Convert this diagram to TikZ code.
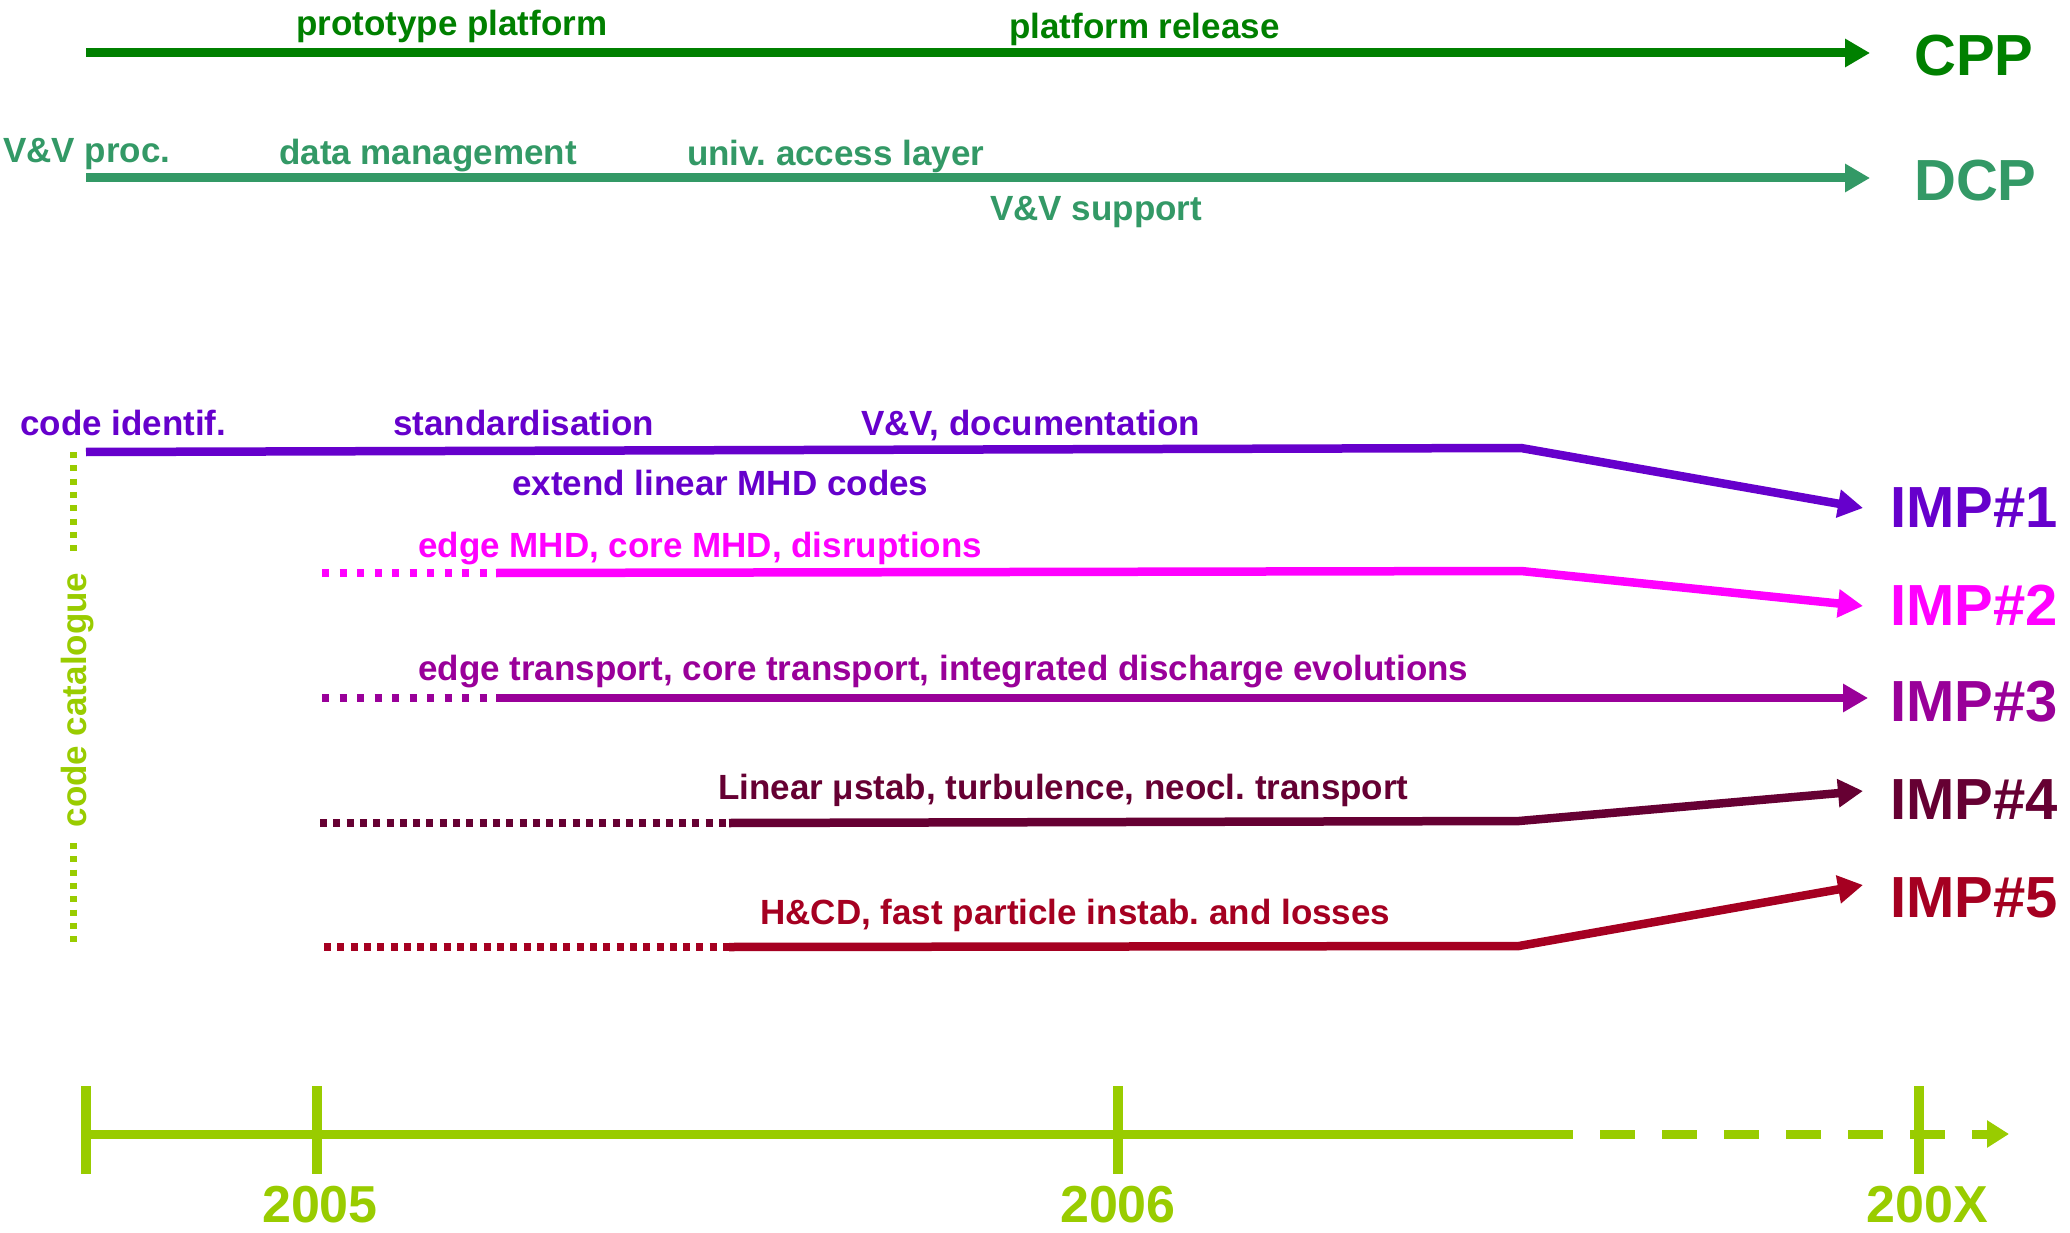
\documentclass[tikz,border=0pt]{standalone}
\usepackage{fontspec}
\setmainfont{Liberation Sans}
\usetikzlibrary{arrows.meta}

\definecolor{cppgreen}{HTML}{008000}
\definecolor{dcpgreen}{HTML}{339966}
\definecolor{impone}{HTML}{6600CC}
\definecolor{imptwo}{HTML}{FF00FF}
\definecolor{impthree}{HTML}{990099}
\definecolor{impfour}{HTML}{660033}
\definecolor{impfive}{HTML}{A50021}
\definecolor{axisgreen}{HTML}{99CC00}

\frenchspacing

\begin{document}
\begin{tikzpicture}[x=1pt,y=-1pt,
  lbl/.style={anchor=base west, inner sep=0pt, font=\fontsize{35}{40}\selectfont\bfseries},
  big/.style={anchor=base west, inner sep=0pt, font=\fontsize{58}{64}\selectfont\bfseries},
  year/.style={anchor=base, inner sep=0pt, font=\fontsize{52}{58}\selectfont\bfseries, text=axisgreen},
  track/.style={line width=9pt},
  imptrack/.style={line width=8.5pt, line join=miter},
  tipped/.style={-{Triangle[length=25pt,width=27pt]}},
  lead/.style={line width=8pt, dash pattern=on 7pt off 10.5pt},
  leadshort/.style={line width=8pt, dash pattern=on 7pt off 6.3pt},
  catdots/.style={line width=7pt, dash pattern=on 6pt off 7.3pt, axisgreen},
  tick/.style={line width=10pt, axisgreen}]

\useasboundingbox (0,0) rectangle (2070,1233);
\fill[white] (0,0) rectangle (2070,1233);

% ---------- CPP ----------
\coordinate (cppS) at (86,53);
\coordinate (cppE) at (1870,53);
\draw[track, cppgreen, tipped] (cppS) -- (cppE);
\node[lbl, text=cppgreen] (protoLbl) at (296,36) {prototype platform};
\node[lbl, text=cppgreen] (releaseLbl) at (1009,39) {platform release};
\node[big, text=cppgreen] (cppLbl) at (1914,76) {CPP};

% ---------- DCP ----------
\coordinate (dcpS) at (86,178);
\coordinate (dcpE) at (1870,178);
\draw[track, dcpgreen, tipped] (dcpS) -- (dcpE);
\node[lbl, text=dcpgreen] (vvprocLbl) at (3,163) {V\&V proc.};
\node[lbl, text=dcpgreen] (dataLbl) at (279,165) {data management};
\node[lbl, text=dcpgreen] (ualLbl) at (687,166) {univ. access layer};
\node[lbl, text=dcpgreen] (vvsupLbl) at (990,221) {V\&V support};
\node[big, text=dcpgreen] (dcpLbl) at (1914,201) {DCP};

% ---------- IMP#1 ----------
\coordinate (iaS) at (86,452);
\coordinate (iaB) at (1521,448);
\coordinate (iaE) at (1863,508);
\draw[imptrack, impone, tipped] (iaS) -- (iaB) -- (iaE);
\node[lbl, text=impone] (codeidLbl) at (20,435) {code identif.};
\node[lbl, text=impone] (stdLbl) at (393,435) {standardisation};
\node[lbl, text=impone] (vvdocLbl) at (861,435) {V\&V, documentation};
\node[lbl, text=impone] (extLbl) at (512,495) {extend linear MHD codes};
\node[big, text=impone] (impaLbl) at (1890,527) {IMP\#1};

% ---------- IMP#2 ----------
\coordinate (ibD) at (322,573);
\coordinate (ibS) at (496,573);
\coordinate (ibB) at (1521,571);
\coordinate (ibE) at (1863,606);
\draw[lead, imptwo] (ibD) -- (ibS);
\draw[imptrack, imptwo, tipped] (ibS) -- (ibB) -- (ibE);
\node[lbl, text=imptwo] (mhdLbl) at (418,557) {edge MHD, core MHD, disruptions};
\node[big, text=imptwo] (impbLbl) at (1890,625) {IMP\#2};

% ---------- IMP#3 ----------
\coordinate (icD) at (322,698);
\coordinate (icS) at (496,698);
\coordinate (icE) at (1868,698);
\draw[lead, impthree] (icD) -- (icS);
\draw[imptrack, impthree, tipped] (icS) -- (icE);
\node[lbl, text=impthree] (transpLbl) at (418,680) {edge transport, core transport, integrated discharge evolutions};
\node[big, text=impthree] (impcLbl) at (1890,721) {IMP\#3};

% ---------- IMP#4 ----------
\coordinate (idD) at (320,823);
\coordinate (idS) at (729,823);
\coordinate (idB) at (1519,821);
\coordinate (idE) at (1863,791);
\draw[leadshort, impfour] (idD) -- (idS);
\draw[imptrack, impfour, tipped] (idS) -- (idB) -- (idE);
\node[lbl, text=impfour] (stabLbl) at (718,799) {Linear μstab, turbulence, neocl. transport};
\node[big, text=impfour] (impdLbl) at (1890,819) {IMP\#4};

% ---------- IMP#5 ----------
\coordinate (ieD) at (324,947);
\coordinate (ieS) at (729,947);
\coordinate (ieB) at (1519,946);
\coordinate (ieE) at (1863,885);
\draw[leadshort, impfive] (ieD) -- (ieS);
\draw[imptrack, impfive, tipped] (ieS) -- (ieB) -- (ieE);
\node[lbl, text=impfive] (hcdLbl) at (760,924) {H\&CD, fast particle instab. and losses};
\node[big, text=impfive] (impeLbl) at (1890,917) {IMP\#5};

% ---------- code catalogue ----------
\coordinate (catA) at (73.5,452);
\coordinate (catB) at (73.5,551);
\coordinate (catC) at (73.5,843);
\coordinate (catD) at (73.5,943);
\draw[catdots] (catA) -- (catB);
\draw[catdots] (catC) -- (catD);
\node[anchor=base, inner sep=0pt, rotate=90, text=axisgreen,
      font=\fontsize{35}{40}\selectfont\bfseries] (catLbl) at (86,700) {code catalogue};

% ---------- time axis ----------
\coordinate (axS) at (86,1134);
\coordinate (axM) at (1538,1134);
\coordinate (axE) at (2009,1134);
\draw[track, axisgreen] (axS) -- (axM);
\draw[track, axisgreen, dash pattern=on 35pt off 27pt,
      -{Triangle[length=22pt,width=26pt]}] (axM) -- (axE);
\foreach \tx/\tn in {86/t0, 317/t1, 1118/t2, 1919/t3}
  \draw[tick] (\tx,1086) coordinate (\tn top) -- (\tx,1174) coordinate (\tn bot);
\node[year] (yA) at (320,1222) {2005};
\node[year] (yB) at (1118,1222) {2006};
\node[year] (yC) at (1927,1222) {200X};

\end{tikzpicture}
\end{document}
